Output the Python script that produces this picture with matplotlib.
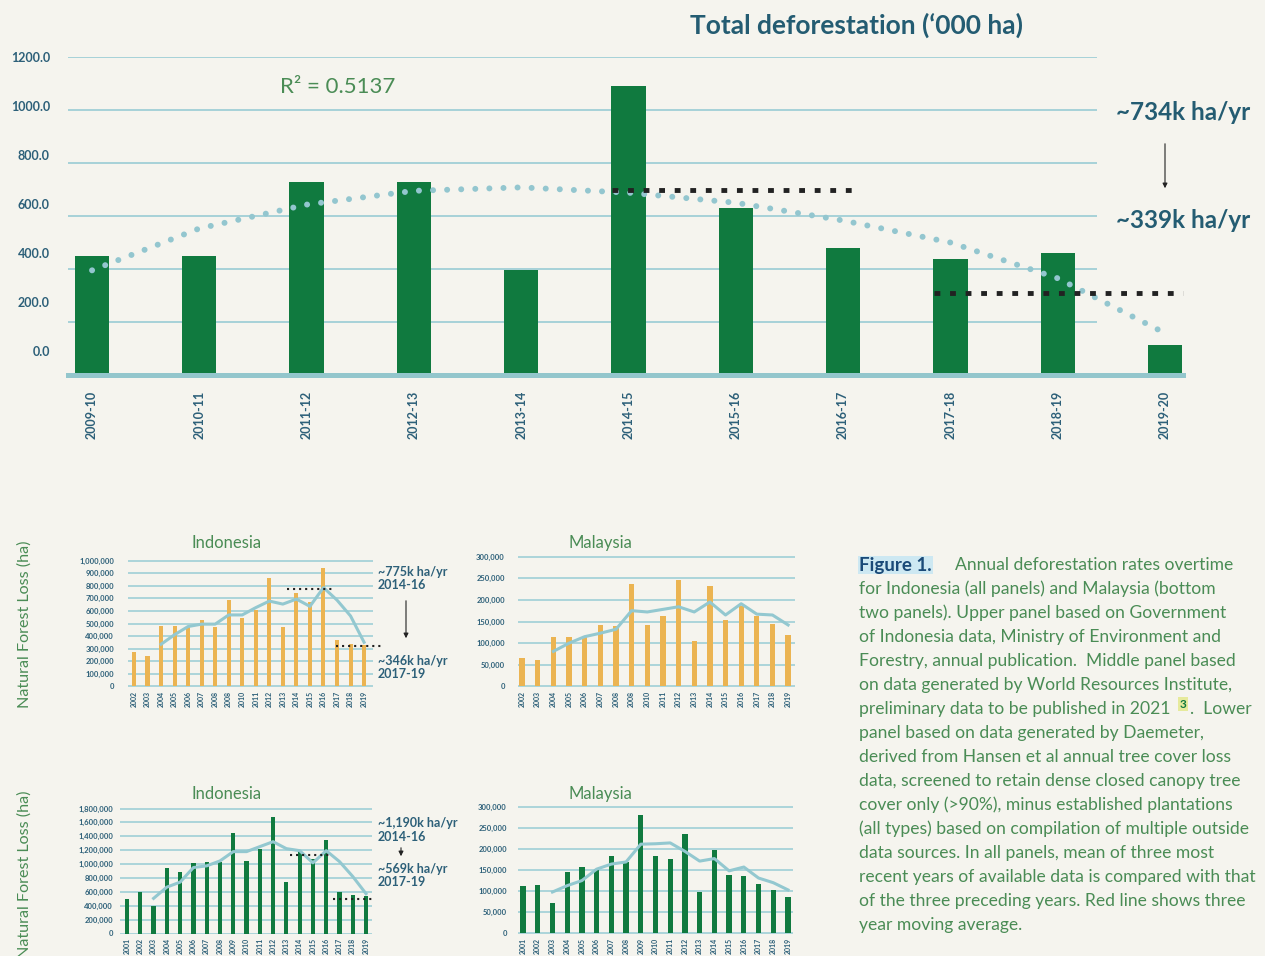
import matplotlib.pyplot as plt
import numpy as np

# ---- data ----
top_periods = ['2009-10', '2010-11', '2011-12', '2012-13', '2013-14', '2014-15',
               '2015-16', '2016-17', '2017-18', '2018-19', '2019-20']
top_defor = [450, 450, 727, 727, 397, 1092, 630, 480, 439, 462, 115]
top_trend = [395, 553, 643, 695, 708, 688, 650, 583, 500, 365, 158]
top_avg = [700, 308]

mid_years = list(range(2002, 2020))
mid_labels = ['2002', '2003', '2004', '2005', '2006', '2007', '2008', '2008', '2010',
              '2011', '2012', '2013', '2014', '2015', '2016', '2017', '2018', '2019']
ma_mid_years = list(range(2004, 2020))
wri_idn = [277, 246, 482, 482, 476, 524, 474, 686, 545, 607, 859, 474, 741, 673,
           937, 372, 335, 330]
wri_idn_ma = [335, 411, 476, 495, 495, 568, 568, 626, 678, 654, 694, 636, 785, 686,
              560, 351]
wri_idn_avg = [770, 325]
wri_mys = [64.6, 62, 115, 115, 114, 142, 140, 236, 142, 163, 245, 106, 231, 153,
           185, 163, 144, 119]
wri_mys_ma = [81, 100, 115, 123, 132, 175, 172, 178, 184, 172, 195, 165, 191, 167,
              165, 142]

low_years = list(range(2001, 2020))
low_labels = [str(y) for y in low_years]
ma_low_years = list(range(2003, 2020))
dae_idn = [501, 601, 401, 945, 888, 1017, 1031, 1025, 1446, 1045, 1217, 1675, 745,
           1193, 1069, 1346, 601, 558, 544]
dae_idn_ma = [506, 668, 740, 950, 974, 1045, 1179, 1179, 1251, 1322, 1222, 1193,
              1017, 1193, 1036, 821, 573]
dae_idn_avg = [1127, 492]
dae_mys = [112, 115, 72, 145, 157, 152, 183, 168, 281, 183, 176, 234, 98, 197, 138,
           136, 117, 103, 86]
dae_mys_ma = [98, 113, 125, 152, 164, 169, 211, 212, 214, 194, 171, 177, 148, 157,
              131, 120, 103]

caption = [
    'for Indonesia (all panels) and Malaysia (bottom',
    'two panels). Upper panel based on Government',
    'of Indonesia data, Ministry of Environment and',
    'Forestry, annual publication.  Middle panel based',
    'on data generated by World Resources Institute,',
    None,
    'panel based on data generated by Daemeter,',
    'derived from Hansen et al annual tree cover loss',
    'data, screened to retain dense closed canopy tree',
    'cover only (>90%), minus established plantations',
    '(all types) based on compilation of multiple outside',
    'data sources. In all panels, mean of three most',
    'recent years of available data is compared with that',
    'of the three preceding years. Red line shows three',
    'year moving average.',
]

# ---- style ----
BG = '#f5f4ee'
GREEN = '#107a3f'
ORANGE = '#ebb452'
GRID = '#a6d2d8'
MA = '#93c8d0'
TICK = '#2d6079'
HEAD = '#245c72'
TXTG = '#4a8c55'
DOT = '#222222'

plt.rcParams['font.family'] = ['Lato', 'DejaVu Sans']

W, H = 1265, 956
fig = plt.figure(figsize=(W / 100, H / 100), dpi=100, facecolor=BG)


def box(l, t, r, b):
    return [l / W, 1 - b / H, (r - l) / W, (b - t) / H]


def ftext(x, y, s, **kw):
    kw.setdefault('va', 'center')
    return fig.text(x / W, 1 - y / H, s, **kw)


def arrow(x, y0, y1):
    fig.add_artist(plt.Annotation('', xy=(x, H - y1), xytext=(x, H - y0),
                                  xycoords='figure pixels',
                                  arrowprops=dict(arrowstyle='-|>', color=DOT,
                                                  lw=0.8, mutation_scale=7)))


# ---- top panel ----
ax = fig.add_axes(box(68, 57, 1183, 375))
ax.set_facecolor('none')
x = np.arange(len(top_periods))
ax.set_xlim(-0.224, 10.168)
ax.set_ylim(0, 1200)
ax.hlines(np.arange(200, 1201, 200), -0.224, 9.37, color=GRID, lw=1.4, zorder=1)
ax.bar(x, top_defor, width=0.32, color=GREEN, zorder=3)
ax.axhline(0, color='#93c6cc', lw=3.6, zorder=4, clip_on=False)
ax.plot(x, top_trend, color='#93c6cf', lw=4.3, linestyle=(0, (0.01, 2.35)),
        dash_capstyle='round', zorder=5)
ax.plot([4.85, 7.16], [top_avg[0]] * 2, color=DOT, lw=3.5,
        linestyle=(0, (1.2, 2.0)), zorder=6)
ax.plot([7.85, 10.17], [top_avg[1]] * 2, color=DOT, lw=3.5,
        linestyle=(0, (1.2, 2.0)), zorder=6, clip_on=False)
ax.set_xticks(x, top_periods, rotation=90, fontsize=9, fontweight='bold', color=TICK)
ax.set_yticks([])
ax.tick_params(axis='x', length=0, pad=11)
for s in ax.spines.values():
    s.set_visible(False)

lab = ax.twinx()
lab.set_ylim(-98, 1200)
lab.yaxis.tick_left()
lab.set_yticks(np.arange(0, 1201, 200), [f'{v:.1f}' for v in range(0, 1201, 200)],
               fontsize=9, fontweight='bold', color=TICK)
lab.tick_params(axis='y', length=0, pad=13)
for s in lab.spines.values():
    s.set_visible(False)

ftext(857, 25, "Total deforestation (\u2018000 ha)", ha='center', fontsize=19,
      fontweight='bold', color=HEAD)
ftext(338, 87, 'R\u00b2 = 0.5137', ha='center', fontsize=16, color=TXTG)
ftext(1183, 113, '~734k ha/yr', ha='center', fontsize=17.5, fontweight='bold', color=HEAD)
ftext(1183, 221, '~339k ha/yr', ha='center', fontsize=17.5, fontweight='bold', color=HEAD)
arrow(1165, 141, 191)


# ---- small panels ----
def panel(b, years, labels, vals, ma_years, ma, color, ymax, ystep, xlim, ypad,
          barw, title, tx, ty):
    a = fig.add_axes(box(*b))
    a.set_facecolor('none')
    a.set_xlim(*xlim)
    a.set_ylim(-ymax * 0.004, ymax * 1.004)
    ticks = np.arange(0, ymax + 1, ystep)
    a.set_yticks(ticks, [f'{int(t):,}' for t in ticks], fontsize=5.5,
                 fontweight='bold', color=TICK)
    a.grid(axis='y', color=GRID, lw=1.3)
    a.set_axisbelow(True)
    a.bar(years, np.array(vals) * 1000, width=barw, color=color, zorder=3)
    a.plot(ma_years, np.array(ma) * 1000, color=MA, lw=2.2, zorder=4)
    a.set_xticks(years, labels, rotation=90, fontsize=5, fontweight='bold', color=TICK)
    a.tick_params(axis='x', length=0, pad=3)
    a.tick_params(axis='y', length=0, pad=ypad)
    for s in a.spines.values():
        s.set_visible(False)
    ftext(tx, ty, title, ha='center', fontsize=12, color=TXTG)
    return a


a1 = panel((128, 560, 373, 687), mid_years, mid_labels, wri_idn, ma_mid_years,
           wri_idn_ma, ORANGE, 1000000, 100000, (2001.56, 2019.66), 10, 0.3,
           'Indonesia', 227, 543)
a1.plot([2013.3, 2016.7], [wri_idn_avg[0] * 1000] * 2, color=DOT, lw=1.5,
        linestyle=(0, (1, 1.9)), zorder=6, clip_on=False)
a1.plot([2016.9, 2020.4], [wri_idn_avg[1] * 1000] * 2, color=DOT, lw=1.5,
        linestyle=(0, (1, 1.9)), zorder=6, clip_on=False)

panel((518, 556, 795, 687), mid_years, mid_labels, wri_mys, ma_mid_years,
      wri_mys_ma, ORANGE, 300000, 50000, (2001.74, 2019.44), 9.4, 0.34,
      'Malaysia', 600, 543)

a3 = panel((120, 808, 372, 934), low_years, low_labels, dae_idn, ma_low_years,
           dae_idn_ma, GREEN, 1800000, 200000, (2000.47, 2019.45), 5, 0.32,
           'Indonesia', 227, 794)
a3.plot([2013.27, 2016.29], [dae_idn_avg[0] * 1000] * 2, color=DOT, lw=1.5,
        linestyle=(0, (1, 1.9)), zorder=6, clip_on=False)
a3.plot([2016.5, 2019.6], [dae_idn_avg[1] * 1000] * 2, color=DOT, lw=1.5,
        linestyle=(0, (1, 1.9)), zorder=6, clip_on=False)

panel((518, 806, 793, 934), low_years, low_labels, dae_mys, ma_low_years,
      dae_mys_ma, GREEN, 300000, 50000, (2000.66, 2019.34), 8, 0.36,
      'Malaysia', 600, 794)

for yc in (624, 874):
    ftext(25, yc, 'Natural Forest Loss (ha)', ha='center', rotation=90,
          fontsize=11.6, color=TXTG)

ann = dict(ha='left', fontsize=9, fontweight='bold', color=TICK)
ftext(378, 572, '~775k ha/yr', **ann)
ftext(378, 585, '2014-16', **ann)
ftext(378, 661, '~346k ha/yr', **ann)
ftext(378, 674, '2017-19', **ann)
arrow(406, 598, 641)
ftext(378, 823, '~1,190k ha/yr', **ann)
ftext(378, 837, '2014-16', **ann)
ftext(378, 869, '~569k ha/yr', **ann)
ftext(378, 882, '2017-19', **ann)
arrow(401, 845, 859)

# ---- caption ----
CAP = 12.6
ftext(859, 565, 'Figure 1.', ha='left', fontsize=13.5, fontweight='bold',
      color='#1a4a78', bbox=dict(boxstyle='square,pad=0.05', fc='#cde8f2', ec='none'))
ftext(955, 565, 'Annual deforestation rates overtime', ha='left', fontsize=CAP,
      color=TXTG)
for i, line in enumerate(caption):
    y = 589 + 24 * i
    if line is None:
        ftext(859, y, 'preliminary data to be published in 2021', ha='left',
              fontsize=CAP, color=TXTG)
        ftext(1183, y - 5, '3', ha='center', fontsize=8.5, fontweight='bold',
              color=GREEN, bbox=dict(boxstyle='square,pad=0.1', fc='#e6ea9c', ec='none'))
        ftext(1190, y, '.  Lower', ha='left', fontsize=CAP, color=TXTG)
    else:
        ftext(859, y, line, ha='left', fontsize=CAP, color=TXTG)

fig.savefig('out.png', dpi=100, facecolor=BG)
